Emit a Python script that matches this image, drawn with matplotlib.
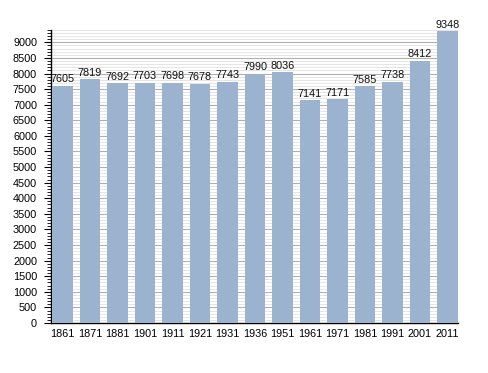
import matplotlib
matplotlib.use("Agg")
import matplotlib.pyplot as plt
from matplotlib.ticker import MultipleLocator

years = ["1861", "1871", "1881", "1901", "1911", "1921", "1931", "1936",
         "1951", "1961", "1971", "1981", "1991", "2001", "2011"]
population = [7605, 7819, 7692, 7703, 7698, 7678, 7743, 7990,
              8036, 7141, 7171, 7585, 7738, 8412, 9348]

plt.rcParams['font.family'] = ['Liberation Sans', 'DejaVu Sans']

fig = plt.figure(figsize=(4.88, 3.73), dpi=100)
ax = fig.add_axes([0.1045, 0.134, 0.834, 0.786])

x = list(range(len(years)))
ax.bar(x, population, width=0.76, color='#9cb3cf', zorder=3)

for xi, v in zip(x, population):
    ax.text(xi, v + 50, str(v), ha='center', va='bottom', fontsize=7.8, color='#111111', zorder=4)

ax.set_xlim(-0.42, 14.38)
ax.set_ylim(0, 9400)
ax.set_xticks(x)
ax.set_xticklabels(years)
ax.yaxis.set_major_locator(MultipleLocator(500))
ax.yaxis.set_minor_locator(MultipleLocator(100))

ax.grid(axis='y', which='major', color='#b0b0b0', linewidth=0.8, zorder=0)
ax.grid(axis='y', which='minor', color='#e0e0e0', linewidth=0.6, zorder=0)
ax.set_axisbelow(True)

for s in ['top', 'right']:
    ax.spines[s].set_visible(False)
ax.spines['left'].set_linewidth(1.0)
ax.spines['bottom'].set_linewidth(1.0)

ax.tick_params(axis='x', length=0, pad=4, labelsize=7.8)
ax.tick_params(axis='y', which='major', length=5, width=0.8, pad=5, labelsize=7.8)
ax.tick_params(axis='y', which='minor', length=3, width=0.6)

fig.savefig("out.png", dpi=100)
